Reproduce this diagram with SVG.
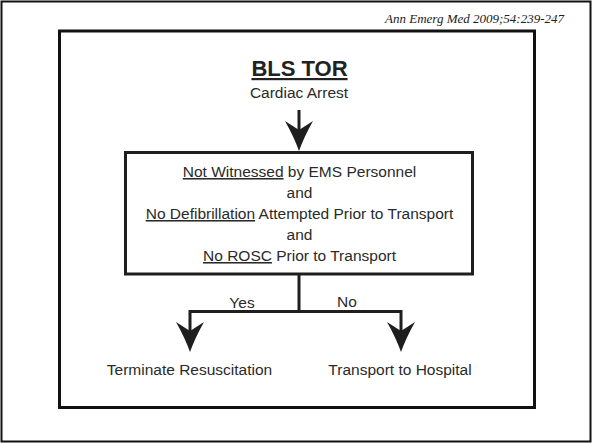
<svg xmlns="http://www.w3.org/2000/svg" width="592" height="443" viewBox="0 0 592 443">
<style>
  .frame{fill:none;stroke:#111;}
  .t{font-family:"Liberation Sans",Arial,sans-serif;font-size:15.5px;fill:#2a2a2a;text-anchor:middle;}
  .u{text-decoration:underline;}
  .line{fill:none;stroke:#1e1e1e;stroke-width:3;}
  .head{fill:#1e1e1e;stroke:none;}
</style>
<defs>
  <path id="ah" d="M0,0 Q-5,-14 -14,-30 Q-7,-25.5 0,-21 Q7,-25.5 14,-30 Q5,-14 0,0 Z"/>
</defs>
<rect width="592" height="443" fill="#fff"/>
<rect class="frame" x="1.5" y="1.5" width="589" height="440" stroke-width="2"/>
<text x="564" y="22.5" font-family="Liberation Serif,'Times New Roman',serif" font-style="italic" font-size="13" fill="#222" text-anchor="end">Ann Emerg Med 2009;54:239-247</text>
<rect class="frame" x="59.5" y="31" width="475" height="376.5" stroke-width="3"/>

<g id="title">
  <text x="299.5" y="76" font-family="Liberation Sans,Arial,sans-serif" font-weight="bold" font-size="22" fill="#222" text-anchor="middle" text-decoration="underline">BLS TOR</text>
</g>
<g id="start">
  <text class="t" x="299" y="98">Cardiac Arrest</text>
</g>
<g id="decision">
  <rect x="125.5" y="152.5" width="347" height="121.5" fill="#fff" stroke="#1e1e1e" stroke-width="3"/>
  <text class="t" x="299.5" y="177"><tspan class="u">Not Witnessed</tspan> by EMS Personnel</text>
  <text class="t" x="299.5" y="198">and</text>
  <text class="t" x="299.5" y="219"><tspan class="u">No Defibrillation</tspan> Attempted Prior to Transport</text>
  <text class="t" x="299.5" y="240">and</text>
  <text class="t" x="299.5" y="261"><tspan class="u">No ROSC</tspan> Prior to Transport</text>
</g>
<g id="terminate">
  <text class="t" x="189.5" y="375">Terminate Resuscitation</text>
</g>
<g id="transport">
  <text class="t" x="400" y="375">Transport to Hospital</text>
</g>
<g id="connectors">
  <line class="line" x1="299" y1="110" x2="299" y2="132"/>
  <use href="#ah" class="head" x="299" y="151"/>
  <polyline class="line" points="299,274 299,311.5"/>
  <polyline class="line" points="190,333 190,311.5 401,311.5 401,333"/>
  <use href="#ah" class="head" x="190" y="352"/>
  <use href="#ah" class="head" x="401" y="352"/>
  <text class="t" x="242" y="308">Yes</text>
  <text class="t" x="347" y="307">No</text>
</g>
</svg>
